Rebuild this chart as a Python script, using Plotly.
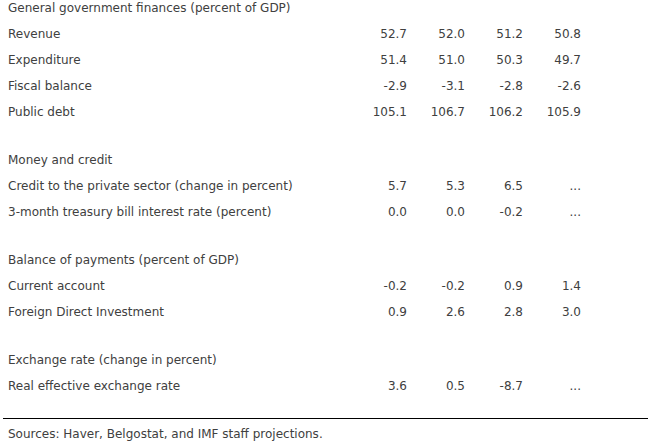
import plotly.graph_objects as go

# ---- data -------------------------------------------------------------
row_labels = [
    "General government finances (percent of GDP)",
    "Revenue",
    "Expenditure",
    "Fiscal balance",
    "Public debt",
    "Money and credit",
    "Credit to the private sector (change in percent)",
    "3-month treasury bill interest rate (percent)",
    "Balance of payments (percent of GDP)",
    "Current account",
    "Foreign Direct Investment",
    "Exchange rate (change in percent)",
    "Real effective exchange rate",
]
# True where a new section starts (a blank gap precedes it, except the first)
section_start = [True, False, False, False, False,
                 True, False, False,
                 True, False, False,
                 True, False]

NA = "..."  # not available
col1 = [None, 52.7, 51.4, -2.9, 105.1, None, 5.7, 0.0, None, -0.2, 0.9, None, 3.6]
col2 = [None, 52.0, 51.0, -3.1, 106.7, None, 5.3, 0.0, None, -0.2, 2.6, None, 0.5]
col3 = [None, 51.2, 50.3, -2.8, 106.2, None, 6.5, -0.2, None, 0.9, 2.8, None, -8.7]
col4 = [None, 50.8, 49.7, -2.6, 105.9, None, NA, NA, None, 1.4, 3.0, None, NA]
columns = [col1, col2, col3, col4]

source_note = "Sources: Haver, Belgostat, and IMF staff projections."

# ---- layout helpers -----------------------------------------------------
W, H = 655, 444
ROW_STEP = 26
GAP = 22
FIRST_Y = 9
LABEL_X = 8
COL_RIGHT0 = 407
COL_STEP = 58
TEXT_COLOR = "#404040"
FONT = "Verdana, DejaVu Sans, sans-serif"

ys = []
y = FIRST_Y
for i, start in enumerate(section_start):
    if i > 0:
        y += ROW_STEP
        if start:
            y += GAP
    ys.append(y)


def fmt(v):
    if v is None:
        return ""
    if isinstance(v, str):
        return v
    return f"{v:.1f}"


fig = go.Figure()

fig.add_trace(go.Scatter(
    x=[LABEL_X] * len(row_labels), y=ys, text=row_labels,
    mode="text", textposition="middle right", cliponaxis=False,
    textfont=dict(family=FONT, size=12, color=TEXT_COLOR),
    hoverinfo="skip", showlegend=False,
))

for j, col in enumerate(columns):
    fig.add_trace(go.Scatter(
        x=[COL_RIGHT0 + COL_STEP * j] * len(col), y=ys,
        text=[fmt(v) for v in col],
        mode="text", textposition="middle left", cliponaxis=False,
        textfont=dict(family=FONT, size=12, color=TEXT_COLOR),
        hoverinfo="skip", showlegend=False,
    ))

fig.add_shape(type="line", x0=3, x1=648, y0=418.5, y1=418.5,
              line=dict(color="black", width=1))

fig.add_trace(go.Scatter(
    x=[LABEL_X], y=[435], text=[source_note],
    mode="text", textposition="middle right", cliponaxis=False,
    textfont=dict(family=FONT, size=12, color=TEXT_COLOR),
    hoverinfo="skip", showlegend=False,
))

fig.update_layout(
    width=W, height=H,
    margin=dict(l=0, r=0, t=0, b=0),
    paper_bgcolor="white", plot_bgcolor="white",
    xaxis=dict(range=[0, W], visible=False, fixedrange=True),
    yaxis=dict(range=[H, 0], visible=False, fixedrange=True),
)

fig.write_html("out.html",
               config={"displayModeBar": False, "staticPlot": True},
               post_script="document.body.style.margin='0';")
